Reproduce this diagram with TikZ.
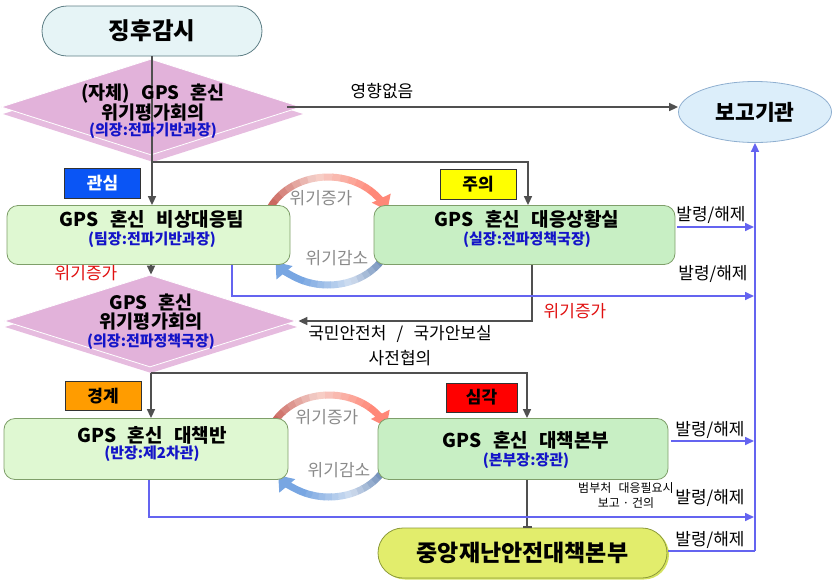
\documentclass[tikz,border=0pt]{standalone}
\usepackage{fontspec}
\setmainfont{Noto Sans CJK KR}
\usetikzlibrary{arrows.meta,shapes.geometric}
\definecolor{watchFill}{HTML}{E6F4F6}
\definecolor{watchDraw}{HTML}{5F7F86}
\definecolor{diamFill}{HTML}{E2B2DA}
\definecolor{diamShadow}{HTML}{E6BCDF}
\definecolor{repFill}{HTML}{DCEEFA}
\definecolor{repDraw}{HTML}{8FAFD0}
\definecolor{lgFill}{HTML}{DFF8D2}
\definecolor{dgFill}{HTML}{C8EFC4}
\definecolor{boxDraw}{HTML}{7F9F6A}
\definecolor{cenFill}{HTML}{E2ED6C}
\definecolor{cenShadow}{HTML}{D4E25E}
\definecolor{cenDraw}{HTML}{8C9A3A}
\definecolor{lineGray}{HTML}{505050}
\definecolor{lineBlue}{HTML}{6464F0}
\definecolor{subBlue}{HTML}{1414C8}
\definecolor{labGray}{HTML}{8A8A8A}
\definecolor{labRed}{HTML}{E01010}
\definecolor{stBlue}{HTML}{0A55F5}
\definecolor{stYellow}{HTML}{FFFF00}
\definecolor{stOrange}{HTML}{FF9C00}
\definecolor{stRed}{HTML}{FF0000}
\definecolor{rA}{HTML}{C4574F}
\definecolor{rM}{HTML}{F6D6D0}
\definecolor{rB}{HTML}{FF8878}
\definecolor{bA}{HTML}{5578AA}
\definecolor{bM}{HTML}{D6E2F2}
\definecolor{bB}{HTML}{78A6E2}
\newcommand\gap{\hspace{0.6em}}
\begin{document}
\begin{tikzpicture}[x=1pt,y=-1pt,
  gline/.style={draw=lineGray,line width=1.6pt},
  bline/.style={draw=lineBlue,line width=1.6pt},
  arr/.style={-{Triangle[length=9pt,width=8pt]}},
  greenbox/.style={draw=boxDraw,line width=0.8pt,rounded corners=11pt,inner sep=0pt},
  diam/.style={diamond,inner sep=0pt,fill=diamFill},
  stbox/.style={draw=black!80,line width=0.8pt,minimum width=76pt,minimum height=30pt,inner sep=0pt,font=\bfseries\fontsize{17}{19}\selectfont},
  ttl/.style={font=\bfseries\fontsize{19}{21}\selectfont,align=center,inner sep=0pt},
  sub/.style={font=\bfseries\fontsize{15}{17}\selectfont,text=subBlue,inner sep=0pt},
  lab/.style={font=\fontsize{17}{19}\selectfont,inner sep=0pt},
  smalllab/.style={font=\fontsize{12}{15}\selectfont,inner sep=0pt,align=center}
]
\useasboundingbox (0,0) rectangle (836,582);

% circular arrows
\foreach \cx/\cy/\rx/\ry in {328/231/64/54, 329/446/62/51}{
  \coordinate (cc) at (\cx,\cy);
  \foreach \i in {0,...,7}{
    \pgfmathsetmacro\a{-160+\i*7.375}
    \pgfmathsetmacro\b{\a+7.8}
    \pgfmathtruncatemacro\p{100-\i*12.5}
    \draw[line width=7pt,color=rA!\p!rM] ([shift={({\a}:{\rx} and {\ry})}]cc) arc[start angle=\a,end angle=\b,x radius=\rx,y radius=\ry];
  }
  \foreach \i in {0,...,7}{
    \pgfmathsetmacro\a{-101+\i*7.375}
    \pgfmathsetmacro\b{\a+7.8}
    \pgfmathtruncatemacro\p{(\i+1)*12.5}
    \draw[line width=7pt,color=rB!\p!rM] ([shift={({\a}:{\rx} and {\ry})}]cc) arc[start angle=\a,end angle=\b,x radius=\rx,y radius=\ry];
  }
  \draw[line width=7pt,rB,-{Triangle[length=14pt,width=20pt]}] ([shift={(-42:{\rx} and {\ry})}]cc) arc[start angle=-42,end angle=-22,x radius=\rx,y radius=\ry];
  \foreach \i in {0,...,7}{
    \pgfmathsetmacro\a{20+\i*6.125}
    \pgfmathsetmacro\b{\a+6.5}
    \pgfmathtruncatemacro\p{100-\i*12.5}
    \draw[line width=7pt,color=bA!\p!bM] ([shift={({\a}:{\rx} and {\ry})}]cc) arc[start angle=\a,end angle=\b,x radius=\rx,y radius=\ry];
  }
  \foreach \i in {0,...,7}{
    \pgfmathsetmacro\a{69+\i*6.125}
    \pgfmathsetmacro\b{\a+6.5}
    \pgfmathtruncatemacro\p{(\i+1)*12.5}
    \draw[line width=7pt,color=bB!\p!bM] ([shift={({\a}:{\rx} and {\ry})}]cc) arc[start angle=\a,end angle=\b,x radius=\rx,y radius=\ry];
  }
  \draw[line width=7pt,bB,-{Triangle[length=14pt,width=20pt]}] ([shift={(118:{\rx} and {\ry})}]cc) arc[start angle=118,end angle=145,x radius=\rx,y radius=\ry];
}

% top
\node[draw=watchDraw,fill=watchFill,line width=0.8pt,rounded corners=25pt,minimum width=220pt,minimum height=50pt,inner sep=0pt,font=\bfseries\fontsize{23.5}{26}\selectfont] (watch) at (152,31) {징후감시};
\node[ellipse,draw=repDraw,fill=repFill,line width=0.8pt,minimum width=153pt,minimum height=61pt,inner sep=0pt,font=\bfseries\fontsize{21.5}{24}\selectfont] (report) at (755,112) {보고기관};

% diamond 1
\node[diam,fill=diamShadow,minimum width=300pt,minimum height=96pt] (d1s) at (153,114) {};
\node[diam,draw=white,line width=0.8pt,minimum width=300pt,minimum height=96pt] (d1) at (151,107) {};

% level-1 boxes
\node[greenbox,fill=lgFill,minimum width=283pt,minimum height=59pt] (team1) at (148.5,235) {};
\node[greenbox,fill=dgFill,minimum width=301pt,minimum height=59pt] (sit) at (524.5,235) {};

% diamond 2
\node[diam,fill=diamShadow,minimum width=292pt,minimum height=92pt] (d2s) at (151,327) {};
\node[diam,draw=white,line width=0.8pt,minimum width=292pt,minimum height=92pt] (d2) at (150,321) {};

% level-2 boxes
\node[greenbox,fill=lgFill,minimum width=284pt,minimum height=61pt] (plan) at (146,449) {};
\node[greenbox,fill=dgFill,minimum width=290pt,minimum height=61pt] (hq) at (523,449) {};

% central
\node[fill=cenShadow,rounded corners=25pt,minimum width=289pt,minimum height=50pt,inner sep=0pt] (cens) at (524.5,554.5) {};
\node[draw=cenDraw,fill=cenFill,line width=0.8pt,rounded corners=25pt,minimum width=289pt,minimum height=50pt,inner sep=0pt,font=\bfseries\fontsize{23}{26}\selectfont] (cen) at (522.5,553) {중앙재난안전대책본부};

% status labels
\node[stbox,fill=stBlue,text=white] (s1) at (102.5,183.5) {관심};
\node[stbox,fill=stYellow] (s2) at (478,184) {주의};
\node[stbox,fill=stOrange,minimum height=29pt] (s3) at (103,396) {경계};
\node[stbox,fill=stRed,minimum width=71pt,minimum height=29pt] (s4) at (481.5,397.5) {심각};

% gray connectors
\draw[gline,arr] (watch.south) -- (watch.south |- team1.north);
\draw[gline,arr] ([xshift=-14pt]d1.east) -- (d1.east -| report.west);
\draw[gline,arr] (d1s.south) -| ([xshift=3.5pt]sit.north);
\draw[gline,arr] ([xshift=2.5pt]team1.south) -- ([xshift=1pt]d2.north);
\draw[gline,arr] ([xshift=7.5pt]sit.south) |- ([xshift=2pt]d2.east);
\draw[gline,arr] (d2s.south) -- (d2s.south |- plan.north);
\draw[gline,arr] (d2s.south) -| ([xshift=4pt]hq.north);
\draw[gline,-{Bar[width=9pt]}] ([xshift=4pt]hq.south) -- ([xshift=4pt]hq.south |- cen.north);

% blue connectors
\coordinate (v1) at (755,227);
\coordinate (v2) at (755,296);
\coordinate (v3) at (755,441);
\coordinate (v4) at (755,517);
\coordinate (v5) at (755,551);
\draw[bline,arr,shorten >=1pt] ([xshift=2pt,yshift=8pt]sit.east) -- (v1);
\draw[bline,arr,shorten >=1pt] ([xshift=83.5pt]team1.south) |- (v2);
\draw[bline,arr,shorten >=1pt] ([xshift=3pt,yshift=8pt]hq.east) -- (v3);
\draw[bline,arr,shorten >=1pt] ([xshift=3pt]plan.south) |- (v4);
\draw[bline] ([xshift=1pt,yshift=2pt]cen.east) -- (v5);
\draw[bline,arr] (v5) -- (report.south);

% box texts
\node[ttl,font=\bfseries\fontsize{18.5}{20}\selectfont] (d1t) at (153,103) {(자체)\gap GPS\gap 혼신\\위기평가회의};
\node[sub] (d1u) at (153,131) {(의장:전파기반과장)};
\node[ttl] (team1t) at (152,219) {GPS\gap 혼신\gap 비상대응팀};
\node[sub] (team1u) at (152,240) {(팀장:전파기반과장)};
\node[ttl] (sitt) at (527,219) {GPS\gap 혼신\gap 대응상황실};
\node[sub] (situ) at (527,240) {(실장:전파정책국장)};
\node[ttl,font=\bfseries\fontsize{18.5}{19}\selectfont] (d2t) at (151,312.5) {GPS\gap 혼신\\위기평가회의};
\node[sub] (d2u) at (151,342) {(의장:전파정책국장)};
\node[ttl] (plant) at (152,435) {GPS\gap 혼신\gap 대책반};
\node[sub] (planu) at (152,454) {(반장:제2차관)};
\node[ttl] (hqt) at (526,440) {GPS\gap 혼신\gap 대책본부};
\node[sub] (hqu) at (526,461) {(본부장:장관)};

% labels
\node[lab] (l1) at (382,91) {영향없음};
\node[lab] (l2) at (711,215) {발령/해제};
\node[lab] (l3) at (713,274) {발령/해제};
\node[lab,text=labRed] (l4) at (86,273) {위기증가};
\node[lab,text=labRed] (l5) at (575,311) {위기증가};
\node[lab] (l6) at (400,334) {국민안전처\gap/\gap 국가안보실};
\node[lab] (l7) at (400,358) {사전협의};
\node[lab] (l8) at (710,430) {발령/해제};
\node[smalllab] (l9) at (626,495.5) {범부처\gap 대응필요시\\보고 · 건의};
\node[lab] (l10) at (710,498) {발령/해제};
\node[lab] (l11) at (710,540) {발령/해제};
\node[lab,text=labGray] (g1) at (321,198) {위기증가};
\node[lab,text=labGray] (g2) at (337,258) {위기감소};
\node[lab,text=labGray] (g3) at (327,417) {위기증가};
\node[lab,text=labGray] (g4) at (339,470) {위기감소};
\end{tikzpicture}
\end{document}
